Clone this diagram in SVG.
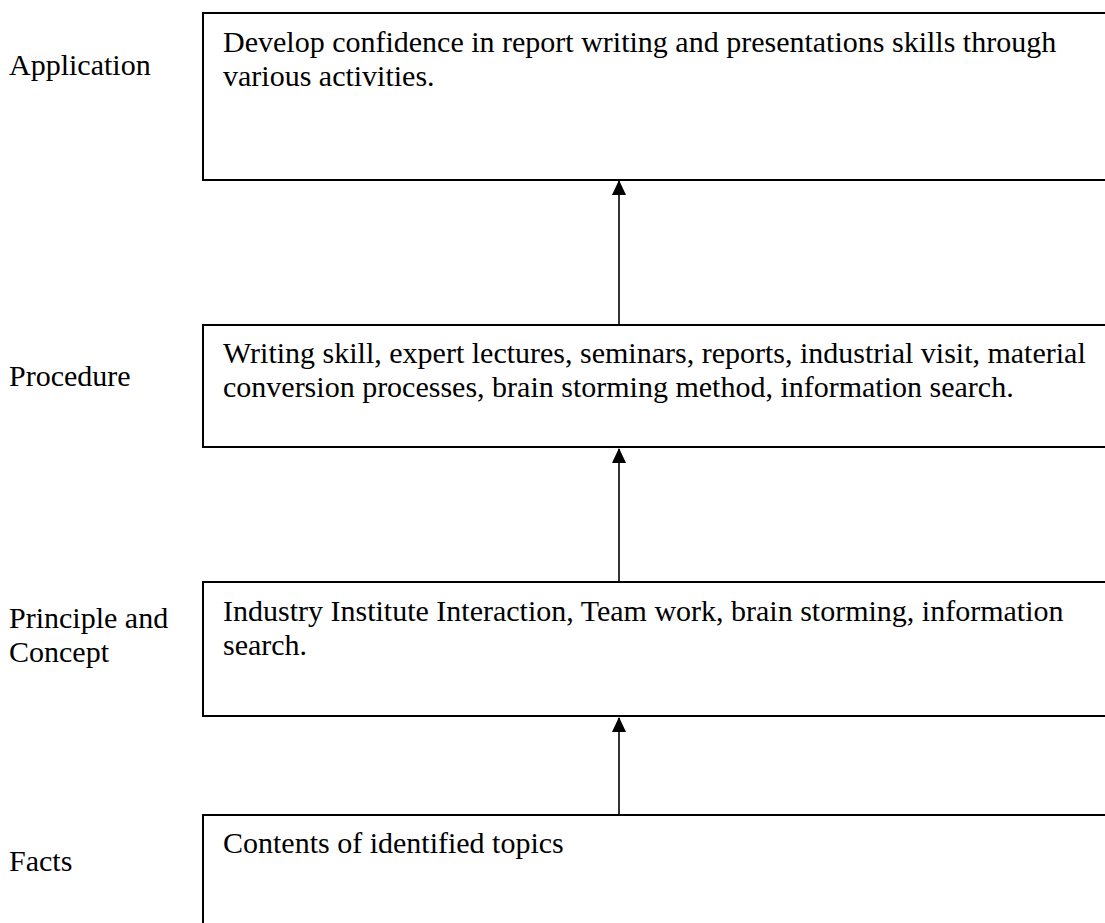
<svg xmlns="http://www.w3.org/2000/svg" width="1105" height="923" viewBox="0 0 1105 923">
<style>
text { font-family: "Liberation Serif", "Times New Roman", serif; font-size: 30px; fill: #000; }
.box { fill: #fff; stroke: #000; stroke-width: 2; }
.conn { stroke: #000; stroke-width: 1.6; fill: none; marker-end: url(#arrow); }
</style>
<defs>
<marker id="arrow" viewBox="0 0 15 14" refX="14" refY="7" markerWidth="15" markerHeight="14" markerUnits="userSpaceOnUse" orient="auto">
<path d="M0,0 L15,7 L0,14 z" fill="#000"/>
</marker>
</defs>
<rect x="0" y="0" width="1105" height="923" fill="#fff"/>
<g id="labels">
<text x="9" y="75">Application</text>
<text x="9" y="386">Procedure</text>
<text x="9" y="628">Principle and</text>
<text x="9" y="662">Concept</text>
<text x="9" y="871">Facts</text>
</g>
<g id="node-application">
<rect class="box" x="203" y="13" width="920" height="167"/>
<text x="223" y="52">Develop confidence in report writing and presentations skills through</text>
<text x="223" y="86">various activities.</text>
</g>
<g id="node-procedure">
<rect class="box" x="203" y="325" width="920" height="122"/>
<text x="223" y="363">Writing skill, expert lectures, seminars, reports, industrial visit, material</text>
<text x="223" y="397">conversion processes, brain storming method, information search.</text>
</g>
<g id="node-principle">
<rect class="box" x="203" y="582" width="920" height="134"/>
<text x="223" y="621">Industry Institute Interaction, Team work, brain storming, information</text>
<text x="223" y="655">search.</text>
</g>
<g id="node-facts">
<rect class="box" x="203" y="815" width="920" height="130"/>
<text x="223" y="853">Contents of identified topics</text>
</g>
<g id="connectors">
<line class="conn" x1="619" y1="325" x2="619" y2="181"/>
<line class="conn" x1="619" y1="582" x2="619" y2="449"/>
<line class="conn" x1="619" y1="815" x2="619" y2="718"/>
</g>
</svg>
